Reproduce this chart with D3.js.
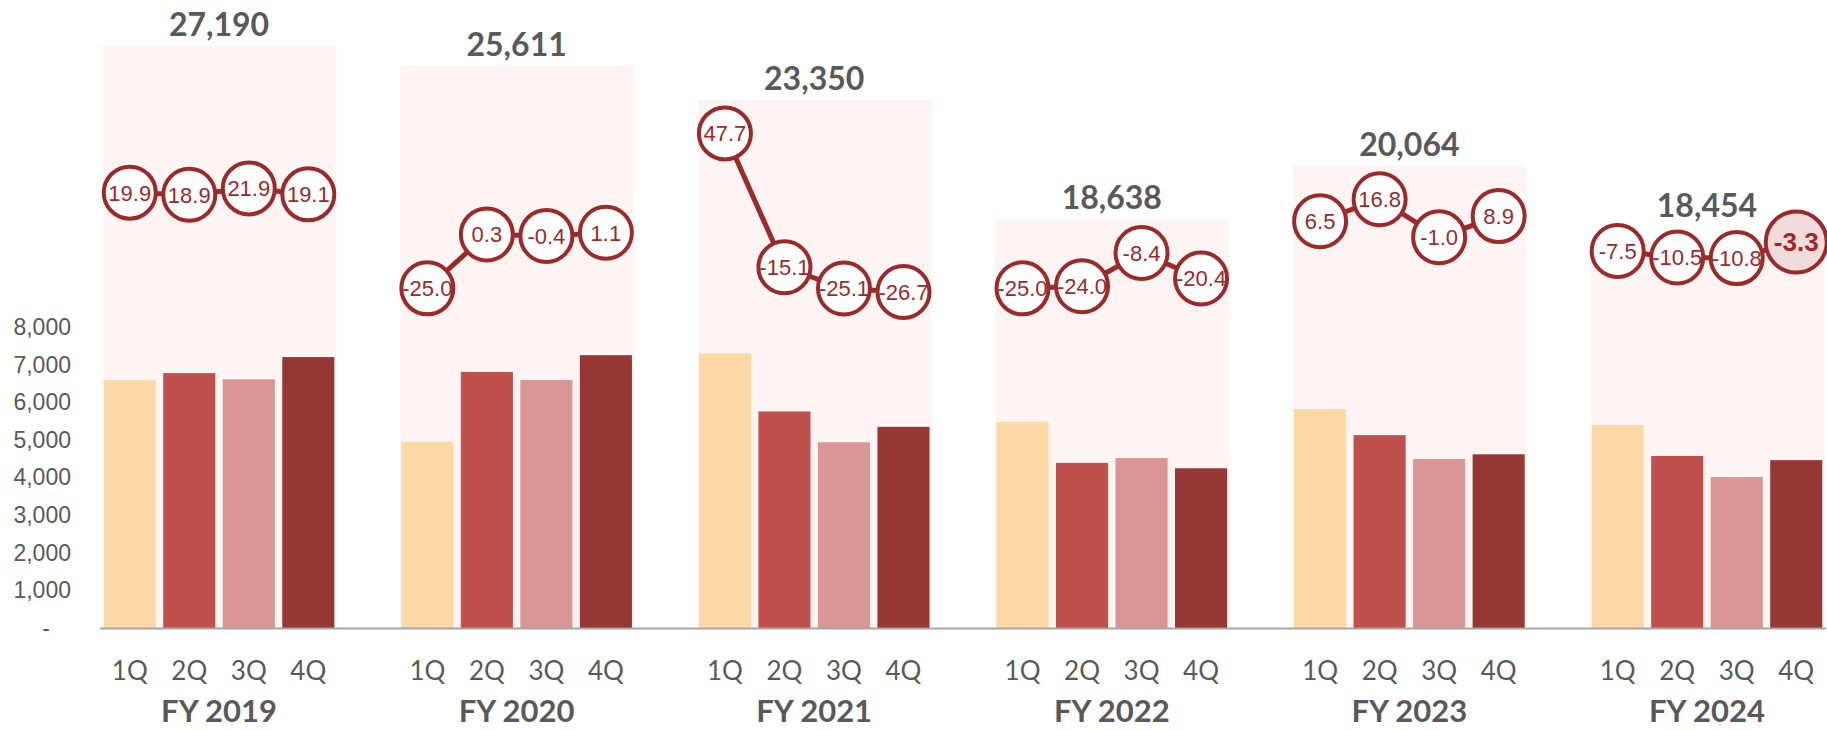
<!DOCTYPE html>
<html>
<head>
<meta charset="utf-8">
<script src="https://d3js.org/d3.v7.min.js"></script>
<style>
  body { margin: 0; background: #fff; }
  svg { display: block; }
</style>
</head>
<body>
<div id="chart"></div>
<script>
// data
const years = ["FY 2019", "FY 2020", "FY 2021", "FY 2022", "FY 2023", "FY 2024"];
const quarters = ["1Q", "2Q", "3Q", "4Q"];

// quarterly sales, one array per quarter (index = year)
const sales1Q = [6590, 4950, 7300, 5480, 5820, 5400];
const sales2Q = [6780, 6810, 5760, 4390, 5130, 4575];
const sales3Q = [6615, 6595, 4940, 4520, 4495, 4015];
const sales4Q = [7205, 7256, 5350, 4248, 4619, 4464];

// yoy growth (%) per quarter
const growth1Q = [19.9, -25.0, 47.7, -25.0, 6.5, -7.5];
const growth2Q = [18.9, 0.3, -15.1, -24.0, 16.8, -10.5];
const growth3Q = [21.9, -0.4, -25.1, -8.4, -1.0, -10.8];
const growth4Q = [19.1, 1.1, -26.7, -20.4, 8.9, -3.3];

// yearly totals and the height of the shaded panel behind each year (secondary axis)
const totals = [27190, 25611, 23350, 18638, 20064, 18454];
const panelValues = [27190, 26260, 24670, 19110, 21580, 18080];

const yTicks = [0, 1000, 2000, 3000, 4000, 5000, 6000, 7000, 8000];

const sales = [sales1Q, sales2Q, sales3Q, sales4Q];
const growth = [growth1Q, growth2Q, growth3Q, growth4Q];
const colors = ["#fdd8a7", "#c0504d", "#d99694", "#953735"];
const lineColor = "#9b2a2a";
const textGray = "#595959";

// plain hyphen for negatives, like the original
const loc = d3.formatLocale({ decimal: ".", thousands: ",", grouping: [3], currency: ["", ""], minus: "-" });
const fmtPct = loc.format(".1f");
const fmtInt = loc.format(",");

const width = 1827, height = 730;
const left = 100, right = 1826, baseline = 628;

const svg = d3.select("#chart")
    .append("svg")
    .attr("width", width)
    .attr("height", height);

// scales
const xg = d3.scaleBand().domain(years).range([left, right]).paddingInner(0.2).paddingOuter(0);
const xq = d3.scaleBand().domain(quarters).range([0, xg.bandwidth()]).paddingInner(0.125).paddingOuter(0.0625);
const y = d3.scaleLinear().domain([0, 8000]).range([baseline, baseline - 8 * 37.6]);
const yPanel = d3.scaleLinear().domain([0, 30000]).range([baseline, baseline - 30000 * 582 / 27190]);
const yGrowth = d3.scaleLinear().domain([-30, 50]).range([299, 128.5]);

const bw = xq.bandwidth();
const cx = (i, q) => xg(years[i]) + xq(quarters[q]) + bw / 2;

// shaded panels
svg.append("g")
    .selectAll("rect")
    .data(years)
    .join("rect")
    .attr("x", d => xg(d) + xq("1Q") - 1)
    .attr("width", xq("4Q") - xq("1Q") + bw + 3)
    .attr("y", (d, i) => yPanel(panelValues[i]))
    .attr("height", (d, i) => baseline - yPanel(panelValues[i]))
    .attr("fill", "#fef4f4");

// bars
const barData = [];
years.forEach((yr, i) => quarters.forEach((q, j) => barData.push({ yr, q, j, v: sales[j][i] })));

svg.append("g")
    .selectAll("rect")
    .data(barData)
    .join("rect")
    .attr("x", d => xg(d.yr) + xq(d.q))
    .attr("width", bw)
    .attr("y", d => y(d.v))
    .attr("height", d => baseline - y(d.v))
    .attr("fill", d => colors[d.j]);

// y axis (labels only)
const yAxis = svg.append("g")
    .attr("transform", "translate(71,0)")
    .call(d3.axisLeft(y).tickValues(yTicks).tickSize(0).tickPadding(0)
        .tickFormat(d => d === 0 ? "-" : fmtInt(d)));
yAxis.select(".domain").remove();
yAxis.selectAll("text")
    .attr("fill", textGray)
    .style("font-family", "'Liberation Sans', Arial, sans-serif")
    .style("font-size", "23px")
    .attr("text-anchor", d => d === 0 ? "middle" : "end")
    .attr("x", d => d === 0 ? -25 : 0);

// x axis line
svg.append("line")
    .attr("x1", left).attr("x2", right)
    .attr("y1", baseline + 0.5).attr("y2", baseline + 0.5)
    .attr("stroke", "#a6a6a6")
    .attr("stroke-width", 2);

// quarter labels + year labels
const labels = svg.append("g");
years.forEach((yr, i) => {
    labels.selectAll(null)
        .data(quarters)
        .join("text")
        .attr("x", (q, j) => cx(i, j))
        .attr("y", 680)
        .attr("text-anchor", "middle")
        .attr("fill", textGray)
        .style("font-family", "Lato, sans-serif")
        .style("font-size", "26px")
        .text(q => q);
});
labels.selectAll(".yr")
    .data(years)
    .join("text")
    .attr("class", "yr")
    .attr("x", d => xg(d) + xg.bandwidth() / 2)
    .attr("y", 722)
    .attr("text-anchor", "middle")
    .attr("fill", textGray)
    .style("font-family", "Lato, sans-serif")
    .style("font-size", "31px")
    .style("font-weight", "bold")
    .text(d => d);

// growth lines + circles
const r = 26;
const lastYear = years.length - 1;
const line = d3.line().x(d => d.x).y(d => d.y);
const growthG = svg.append("g");

years.forEach((yr, i) => {
    const pts = quarters.map((q, j) => ({ x: cx(i, j), y: yGrowth(growth[j][i]), v: growth[j][i], last: i === lastYear && j === 3 }));
    growthG.append("path")
        .attr("d", line(pts))
        .attr("fill", "none")
        .attr("stroke", lineColor)
        .attr("stroke-width", 5);
    const node = growthG.selectAll(null)
        .data(pts)
        .join("g")
        .attr("transform", d => `translate(${d.x},${d.y})`);
    node.append("circle")
        .attr("r", d => d.last ? 30.5 : r)
        .attr("fill", d => d.last ? "#f2dcdb" : "#fff")
        .attr("stroke", lineColor)
        .attr("stroke-width", 4);
    node.append("text")
        .attr("text-anchor", "middle")
        .attr("dy", "0.36em")
        .attr("fill", lineColor)
        .style("font-family", "'Liberation Sans', Arial, sans-serif")
        .style("font-size", d => d.last ? "26px" : "22px")
        .style("font-weight", d => d.last ? "bold" : "normal")
        .text(d => fmtPct(d.v));

    // total label sits above the panel, or above the middle circles if they reach higher
    const midTop = Math.min(pts[1].y, pts[2].y) - r - 2;
    const ty = Math.min(yPanel(panelValues[i]) - 10, midTop - 12);
    svg.append("text")
        .attr("x", xg(yr) + xg.bandwidth() / 2)
        .attr("y", ty)
        .attr("text-anchor", "middle")
        .attr("fill", textGray)
        .style("font-family", "Lato, sans-serif")
        .style("font-size", "32px")
        .style("font-weight", "bold")
        .text(fmtInt(totals[i]));
});
</script>
</body>
</html>
